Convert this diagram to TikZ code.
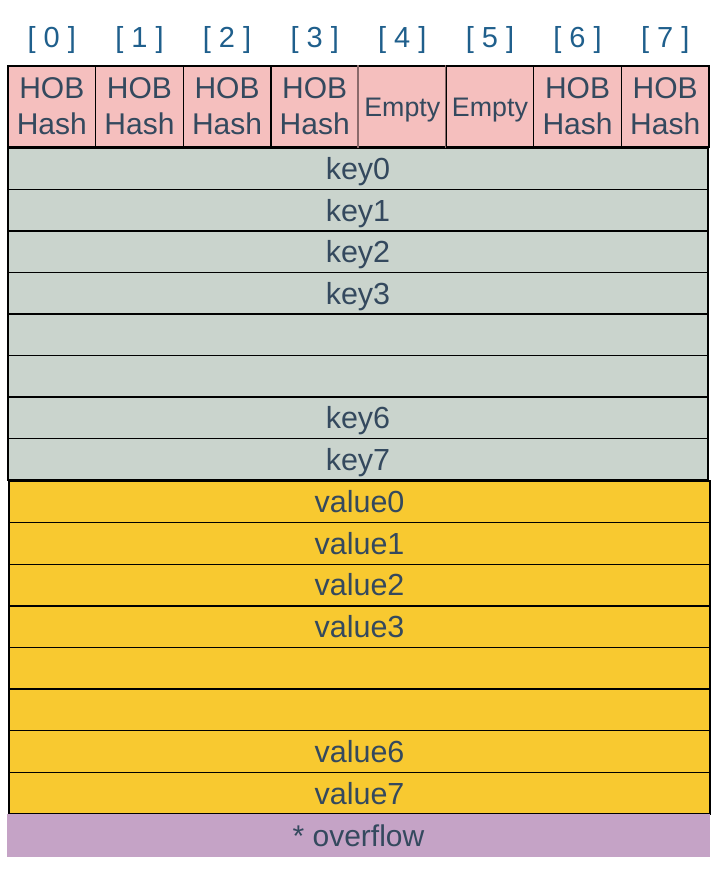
\documentclass[tikz,border=0pt]{standalone}
\usepackage{fontspec}
\setmainfont{Liberation Sans}
\begin{document}
\definecolor{hashpink}{HTML}{F5BFBE}
\definecolor{keygrey}{HTML}{CAD4CD}
\definecolor{valyellow}{HTML}{F8C930}
\definecolor{ovfpurple}{HTML}{C5A3C6}
\definecolor{inktext}{HTML}{34495E}
\definecolor{idxblue}{HTML}{1F5F8C}
\definecolor{softedge}{HTML}{8A6A6A}
\begin{tikzpicture}[x=1pt,y=-1pt,
  cellbase/.style={draw=black, line width=1.3pt, inner sep=0pt, text=inktext},
  hashcell/.style={cellbase, fill=hashpink, minimum width=87.625pt, minimum height=81pt,
    align=center, font=\fontsize{30}{36}\selectfont},
  emptycell/.style={hashcell, text height=19.2pt, text depth=0pt, font=\fontsize{26.8}{30}\selectfont},
  keyrow/.style={cellbase, text height=21.8pt, text depth=0pt, fill=keygrey,
    minimum width=700pt, minimum height=41.5pt, font=\fontsize{30.5}{34}\selectfont},
  valrow/.style={cellbase, text height=21.8pt, text depth=0pt, fill=valyellow,
    minimum width=701pt, minimum height=41.625pt, font=\fontsize{30.5}{34}\selectfont},
  ovfrow/.style={inner sep=0pt, text height=21.5pt, text depth=0pt, fill=ovfpurple, text=inktext,
    minimum width=703pt, minimum height=43pt, font=\fontsize{30}{34}\selectfont},
  idxlabel/.style={text=idxblue, text height=20.8pt, text depth=0pt, font=\fontsize{29}{32}\selectfont}]
\useasboundingbox (0,0) rectangle (726,873);
\fill[white] (0,0) rectangle (726,873);

% bucket index labels
\foreach \i in {0,...,7}
  \node[idxlabel] (i\i) at ({8+87.625*(\i+0.5)},37) {[ \i\ ]};

% key rows
\foreach \j/\txt in {0/key0,1/key1,2/key2,3/key3,4/,5/,6/key6,7/key7}
  \node[keyrow] (k\j) at (358,{148+41.5*(\j+0.5)}) {\txt};

% value rows
\foreach \j/\txt in {0/value0,1/value1,2/value2,3/value3,4/,5/,6/value6,7/value7}
  \node[valrow] (v\j) at (359.5,{481+41.625*(\j+0.5)}) {\txt};

% overflow pointer
\node[ovfrow] (ovf) at (358.5,835.5) {* overflow};

% tophash array
\foreach \i in {0,1,2,3,6,7}
  \node[hashcell] (h\i) at ({8+87.625*(\i+0.5)},106.5) {HOB\\Hash};
\foreach \i in {4,5}
  \node[emptycell] (h\i) at ({8+87.625*(\i+0.5)},106.5) {Empty};

% lighter dividers around the empty slots
\draw[softedge, line width=1.3pt] (h4.north west) -- (h4.south west);
\draw[softedge, line width=1.3pt] (h5.north west) -- (h5.south west);
\end{tikzpicture}
\end{document}
